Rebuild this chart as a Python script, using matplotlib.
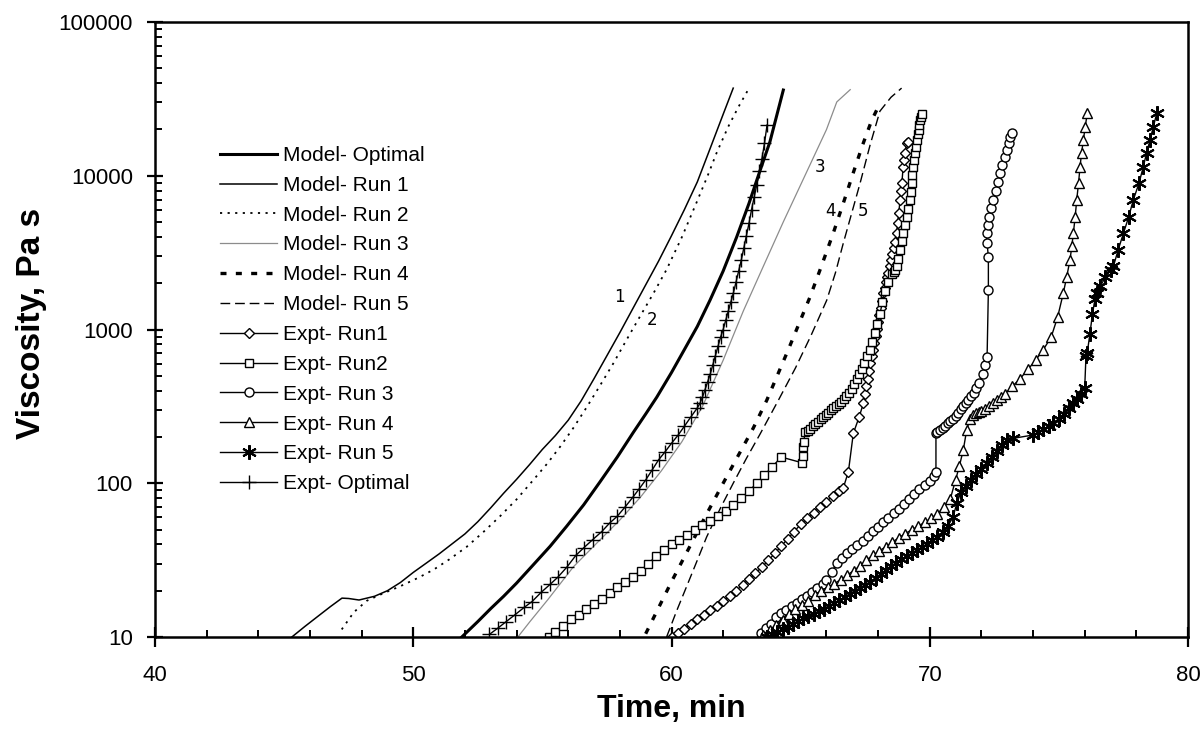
import numpy as np
import matplotlib.pyplot as plt
from matplotlib.ticker import FixedLocator, LogLocator, FuncFormatter, NullFormatter

plt.rcParams['font.family'] = ['Liberation Sans', 'DejaVu Sans']

# ---------------- Model curves (time in min, viscosity in Pa s) ----------------
model_opt_t = [51.88, 52.5, 53.0, 53.5, 54.0, 54.65, 55.3, 55.94, 56.6, 57.23, 57.9, 58.52, 59.0, 59.43,
               60.0, 60.5, 61.0, 61.49, 62.0, 62.52, 63.0, 63.3, 63.81, 64.33]
model_opt_v = [10, 12.6, 15.3, 18.4, 22.4, 29.5, 38.9, 52.5, 72.4, 102, 148, 214, 282, 363,
               525, 741, 1047, 1549, 2399, 3981, 6607, 9333, 16600, 36100]

model_r1_t = [45.3, 45.8, 46.3, 46.8, 47.24, 47.5, 47.9, 48.5, 49.0, 49.5, 50.0, 50.5, 51.0, 51.5, 52.0,
              52.5, 53.0, 53.5, 54.0, 54.5, 55.0, 55.5, 56.0, 56.5, 57.0, 57.5, 58.0, 58.5, 59.0, 59.5,
              60.0, 60.5, 61.0, 61.5, 62.0, 62.39]
model_r1_v = [10, 11.7, 13.6, 15.8, 17.9, 17.8, 17.4, 18.4, 20.0, 22.6, 26.3, 30.2, 34.7, 40.3, 46.8,
              56.2, 69.2, 86.1, 106, 132, 166, 204, 257, 343, 479, 676, 955, 1365, 1950, 2786,
              4074, 6026, 9120, 15100, 25100, 37150]

model_r2_t = [47.23, 47.7, 48.2, 48.8, 49.5, 50.2, 50.8, 51.4, 52.07, 52.7, 53.36, 54.0, 54.65, 55.2,
              55.7, 56.2, 56.72, 57.25, 57.75, 58.25, 58.78, 59.3, 59.81, 60.4, 60.98, 61.4, 61.75,
              62.2, 62.6, 62.97]
model_r2_v = [11.2, 14.5, 17.2, 19.1, 21.4, 24.3, 27.5, 32.0, 38.6, 47.9, 61.0, 78.5, 105, 135,
              174, 229, 313, 437, 603, 851, 1216, 1718, 2455, 3981, 6761, 10000, 14130,
              20900, 28180, 36300]

model_r3_t = [54.05, 54.52, 55.2, 56.2, 57.1, 58.0, 58.8, 59.6, 60.4, 61.2, 62.0, 62.78, 63.5, 64.33,
              65.36, 66.0, 66.4, 66.92]
model_r3_v = [10, 12.6, 17.4, 28.6, 40.7, 57.7, 81.3, 120, 186, 316, 631, 1318, 2455, 5012,
              11750, 19950, 30200, 36300]

model_r4_t = [59.0, 59.5, 60.0, 60.59, 61.36, 62.0, 62.39, 63.17, 63.69, 64.5, 65.36, 65.8, 66.27,
              66.65, 67.04, 67.4, 67.75, 68.07]
model_r4_v = [10.5, 15.5, 22.9, 35.5, 63.1, 100, 132, 229, 347, 724, 1622, 2570, 4266,
              6607, 10470, 15850, 22900, 29500]

model_r5_t = [59.81, 60.2, 60.59, 61.0, 61.36, 61.9, 62.39, 62.9, 63.43, 64.14, 64.8, 65.4, 66.01,
              66.35, 66.65, 67.0, 67.3, 67.69, 68.07, 68.5, 68.91]
model_r5_v = [10, 14.8, 21.4, 31.6, 44.7, 69.2, 100, 145, 209, 347, 562, 912, 1549,
              2344, 3631, 5888, 8913, 15850, 26300, 32400, 37150]

# ---------------- Experimental runs ----------------
expt_r1_t = [60.0, 60.25, 60.5, 60.75, 61.0, 61.25, 61.5, 61.75, 62.0, 62.25, 62.5, 62.75, 63.0, 63.25,
             63.5, 63.75, 64.0, 64.25, 64.5, 64.75, 65.0, 65.25, 65.5, 65.75, 66.0, 66.25, 66.5, 66.65,
             66.85, 67.04, 67.27, 67.43, 67.5, 67.55, 67.6, 67.65, 67.7, 67.75, 67.8, 67.85, 67.9, 67.95,
             68.0, 68.05, 68.1, 68.15, 68.2, 68.25, 68.3, 68.35, 68.4, 68.46, 68.5, 68.55, 68.6, 68.65,
             68.72, 68.76, 68.8, 68.85, 68.89, 68.92, 68.97, 69.01, 69.05, 69.1, 69.15]
expt_r1_v = [10, 10.6, 11.3, 12.1, 13.0, 13.9, 14.9, 16.0, 17.2, 18.5, 20, 21.8, 23.8, 26,
             28.5, 31.5, 35, 39, 43.5, 48.5, 54, 59, 64, 70, 76, 83, 89, 93,
             119, 211, 271, 331, 380, 427, 479, 537, 603, 670, 741, 822, 912, 1010,
             1122, 1250, 1380, 1540, 1718, 1870, 2042, 2190, 2344, 2570, 2820, 3090, 3390, 3715,
             4266, 4950, 5754, 6918, 7900, 8913, 11480, 12700, 14130, 16220, 16600]

expt_r2_t = [55.25, 55.5, 55.8, 56.1, 56.4, 56.7, 57.0, 57.3, 57.6, 57.9, 58.2, 58.5, 58.8, 59.1, 59.4,
             59.7, 60.0, 60.3, 60.6, 60.9, 61.2, 61.5, 61.8, 62.1, 62.4, 62.7, 63.0, 63.3, 63.6, 63.9,
             64.25, 65.05, 65.1, 65.1, 65.12, 65.17, 65.27, 65.37, 65.47, 65.57, 65.67, 65.77, 65.87,
             65.97, 66.07, 66.17, 66.27, 66.37, 66.47, 66.57, 66.67, 66.77, 66.87, 66.97, 67.07, 67.17,
             67.27, 67.37, 67.47, 67.57, 67.67, 67.77, 67.87, 67.97, 68.07, 68.17, 68.27, 68.4, 68.55,
             68.6, 68.66, 68.72, 68.78, 68.85, 68.91, 68.97, 69.04, 69.1, 69.17, 69.23, 69.27, 69.3,
             69.33, 69.36, 69.4, 69.43, 69.46, 69.49, 69.53, 69.57, 69.6, 69.63, 69.66, 69.69]
expt_r2_v = [10, 10.8, 11.8, 13.0, 14.0, 15.2, 16.4, 17.6, 19.2, 21, 22.8, 24.6, 27, 30, 33.5,
             37, 40, 43, 46, 50, 53.5, 57, 61.5, 66, 72, 80, 89, 100, 113, 128,
             148, 136, 150, 172, 185, 214, 219, 226, 234, 243, 251, 260, 269,
             279, 288, 299, 309, 320, 327, 339, 351, 367, 389, 412, 442, 473,
             513, 556, 610, 668, 741, 832, 944, 1084, 1259, 1514, 1778, 2042, 2291,
             2371, 2455, 2570, 2884, 3311, 3758, 4227, 4786, 5370, 6095, 6918, 7852, 8913,
             10120, 11480, 12740, 14130, 15490, 17100, 18620, 19950, 21380, 22900, 24270, 25400]

expt_r3_t = [63.45, 63.65, 63.85, 64.05, 64.25, 64.45, 64.65, 64.85, 65.05, 65.25, 65.45, 65.65, 65.85,
             66.0, 66.2, 66.4, 66.6, 66.8, 67.0, 67.2, 67.4, 67.6, 67.8, 68.0, 68.2, 68.4, 68.6, 68.8,
             69.0, 69.2, 69.4, 69.6, 69.8, 70.0, 70.15, 70.24, 70.24, 70.3, 70.4, 70.5, 70.6, 70.7,
             70.8, 70.9, 71.0, 71.1, 71.2, 71.3, 71.4, 71.5, 71.6, 71.7, 71.8, 71.9, 72.05, 72.15,
             72.22, 72.27, 72.27, 72.22, 72.2, 72.25, 72.3, 72.38, 72.46, 72.55, 72.63, 72.72, 72.8,
             72.9, 72.98, 73.05, 73.12, 73.17]
expt_r3_v = [10.6, 11.4, 12.2, 13.5, 14.3, 15.0, 15.8, 16.7, 17.6, 18.6, 19.6, 20.7, 22.0,
             23.5, 26.5, 30.1, 32.8, 35.0, 37.2, 39.6, 42.3, 45.5, 48.8, 52.2, 55.8, 59.6, 63.8, 68.5,
             73.5, 79.0, 85.0, 91.5, 97.5, 104, 112, 119, 211, 214, 221, 229, 237, 245,
             254, 263, 275, 288, 302, 316, 331, 347, 367, 389, 417, 447, 513, 589,
             661, 1800, 2970, 3630, 4230, 4790, 5370, 6166, 6950, 7943, 9120, 10380, 11750,
             13180, 14720, 16220, 17780, 18880]

expt_r4_t = [63.55, 63.8, 64.05, 64.3, 64.55, 64.8, 65.05, 65.3, 65.55, 65.8, 66.05, 66.3, 66.55, 66.8,
             67.05, 67.3, 67.55, 67.8, 68.05, 68.3, 68.55, 68.8, 69.05, 69.3, 69.55, 69.8, 70.05, 70.3,
             70.55, 70.8, 71.0, 71.15, 71.3, 71.43, 71.55, 71.69, 71.8, 71.9, 72.0, 72.15, 72.3, 72.45,
             72.6, 72.75, 72.9, 73.2, 73.5, 73.8, 74.1, 74.4, 74.7, 74.95, 75.17, 75.3, 75.43, 75.5,
             75.56, 75.63, 75.69, 75.76, 75.82, 75.88, 75.95, 76.02, 76.1]
expt_r4_v = [10.3, 11.1, 12.0, 12.9, 14.1, 15.1, 16.1, 17.2, 18.8, 20.0, 21.1, 22.2, 23.6, 25.2,
             27.0, 29.0, 31.7, 34.0, 36.3, 38.7, 41.3, 44.2, 47.0, 49.8, 52.5, 55.7, 59.2, 63.5,
             70.0, 79.5, 105, 130, 165, 222, 260, 278, 288, 291, 295, 305, 316, 331,
             347, 363, 380, 427, 479, 550, 631, 741, 891, 1202, 1718, 2188, 2831, 3467,
             4227, 5370, 6950, 8913, 11460, 14130, 17100, 20890, 25470]

expt_r5_t = [63.7, 63.9, 64.1, 64.3, 64.5, 64.7, 64.9, 65.1, 65.3, 65.5, 65.7, 65.9, 66.1, 66.3, 66.5,
             66.7, 66.9, 67.1, 67.3, 67.5, 67.7, 67.9, 68.1, 68.3, 68.5, 68.7, 68.9, 69.1, 69.3, 69.5,
             69.7, 69.9, 70.1, 70.3, 70.5, 70.7, 70.9, 71.05, 71.2, 71.4, 71.6, 71.8, 72.0, 72.2, 72.4,
             72.6, 72.8, 73.0, 73.24, 74.0, 74.2, 74.4, 74.6, 74.79, 75.0, 75.2, 75.4, 75.56, 75.7,
             75.85, 76.0, 76.05, 76.1, 76.2, 76.3, 76.4, 76.46, 76.6, 76.8, 77.0, 77.11, 77.3, 77.5,
             77.7, 77.88, 78.1, 78.27, 78.4, 78.53, 78.66, 78.79]
expt_r5_v = [10, 10.5, 10.8, 11.2, 11.6, 12.2, 12.7, 13.2, 13.6, 14.1, 14.8, 15.3, 16.0, 16.6, 17.4,
             18.2, 19.1, 20.0, 20.9, 21.9, 22.9, 24.3, 25.7, 27.2, 28.8, 30.5, 32.0, 33.5, 35.1, 36.7,
             38.5, 40.3, 42.7, 44.7, 47.9, 52.5, 60.3, 74.1, 87.1, 95.5, 105, 115, 124, 135, 148,
             162, 178, 191, 196, 206, 214, 224, 234, 245, 263, 282, 309, 331, 355,
             380, 417, 676, 708, 933, 1259, 1585, 1718, 1905, 2188, 2455, 2570, 3311, 4227,
             5370, 6950, 8913, 11460, 14130, 17100, 20890, 25470]

expt_opt_t = [52.95, 53.3, 53.6, 53.95, 54.3, 54.6, 54.95, 55.3, 55.6, 55.95, 56.3, 56.6, 56.95, 57.3,
              57.6, 57.9, 58.2, 58.5, 58.75, 59.0, 59.25, 59.5, 59.75, 60.0, 60.25, 60.5, 60.75, 61.0,
              61.1, 61.2, 61.3, 61.4, 61.5, 61.6, 61.7, 61.8, 61.9, 62.0, 62.1, 62.2, 62.3, 62.4, 62.5,
              62.6, 62.7, 62.8, 62.9, 63.0, 63.1, 63.2, 63.3, 63.4, 63.5, 63.6, 63.7]
expt_opt_v = [10.4, 11.5, 12.6, 14.0, 15.6, 17.0, 19.5, 22, 24.5, 28.5, 34, 38, 43, 48.5,
              55, 61, 70, 81, 92, 105, 122, 142, 160, 182, 205, 235, 270, 309,
              331, 363, 407, 457, 513, 589, 676, 776, 891, 1000, 1148, 1318, 1514, 1738, 2042,
              2399, 2818, 3388, 4074, 4898, 6026, 7244, 8710, 10720, 12880, 16220, 21380]

# curve number labels: (text, time, viscosity)
curve_labels = [("1", 58.0, 1625), ("2", 59.26, 1150), ("3", 65.75, 11400), ("4", 66.14, 5890), ("5", 67.43, 5890)]

# ---------------- Plot ----------------
fig = plt.figure(figsize=(12.04, 7.35), dpi=100)
ax = fig.add_axes([155 / 1204, 98 / 735, 1033 / 1204, 615 / 735])

ax.plot(model_opt_t, model_opt_v, color='black', lw=2.2, label='Model- Optimal')
ax.plot(model_r1_t, model_r1_v, color='black', lw=1.1, label='Model- Run 1')
ax.plot(model_r2_t, model_r2_v, color='black', lw=1.3, linestyle=(0, (1.2, 3.0)), label='Model- Run 2')
ax.plot(model_r3_t, model_r3_v, color='#8c8c8c', lw=0.9, label='Model- Run 3')
ax.plot(model_r4_t, model_r4_v, color='black', lw=2.4, linestyle=(0, (1.8, 2.8)), label='Model- Run 4')
ax.plot(model_r5_t, model_r5_v, color='black', lw=1.0, linestyle=(0, (7, 3.5)), label='Model- Run 5')

mk = dict(color='black', lw=1.0, markerfacecolor='white', markeredgecolor='black', markeredgewidth=1.0)
ax.plot(expt_r1_t, expt_r1_v, marker='D', markersize=5, label='Expt- Run1', **mk)
ax.plot(expt_r2_t, expt_r2_v, marker='s', markersize=6, label='Expt- Run2', **mk)
ax.plot(expt_r3_t, expt_r3_v, marker='o', markersize=6.5, label='Expt- Run 3', **mk)
ax.plot(expt_r4_t, expt_r4_v, marker='^', markersize=6.5, label='Expt- Run 4', **mk)
ax.plot(expt_r5_t, expt_r5_v, marker=(6, 2, 0), markersize=10.5, label='Expt- Run 5',
        color='black', lw=1.0, markeredgecolor='black', markeredgewidth=1.5)
ax.plot(expt_opt_t, expt_opt_v, marker='+', markersize=10, label='Expt- Optimal', **mk)

for txt, t, v in curve_labels:
    ax.text(t, v, txt, fontsize=12, family='DejaVu Sans', ha='center', va='center')

# ---------------- Axes ----------------
ax.set_yscale('log')
ax.set_xlim(40, 80)
ax.set_ylim(10, 100000)

ax.xaxis.set_major_locator(FixedLocator([40, 50, 60, 70, 80]))
ax.xaxis.set_minor_locator(FixedLocator([42, 44, 46, 48, 52, 54, 56, 58, 62, 64, 66, 68, 72, 74, 76, 78]))
ax.yaxis.set_major_locator(LogLocator(base=10, numticks=10))
ax.yaxis.set_minor_locator(LogLocator(base=10, subs=np.arange(2, 10), numticks=20))
ax.yaxis.set_major_formatter(FuncFormatter(lambda v, p: f"{int(round(v))}"))
ax.yaxis.set_minor_formatter(NullFormatter())

ax.tick_params(which='major', direction='inout', length=14, width=1.6, labelsize=16)
ax.tick_params(axis='x', which='major', pad=13)
ax.tick_params(axis='y', which='major', length=12, pad=10)
ax.tick_params(which='minor', direction='in', length=5, width=1.4)
for s in ax.spines.values():
    s.set_linewidth(1.8)

ax.set_xlabel('Time, min', fontsize=23, fontweight='bold')
ax.set_ylabel('Viscosity, Pa s', fontsize=24, fontweight='bold')
ax.xaxis.set_label_coords(0.5, -0.092)
ax.yaxis.set_label_coords(-0.105, 0.51)

leg = ax.legend(loc='upper left', bbox_to_anchor=(220 / 1204, 1 - 146 / 735), bbox_transform=fig.transFigure,
                frameon=False, fontsize=15, handlelength=2.74, handletextpad=0.3, labelspacing=0.52,
                borderpad=0, borderaxespad=0)

fig.savefig('out.png', dpi=100)
